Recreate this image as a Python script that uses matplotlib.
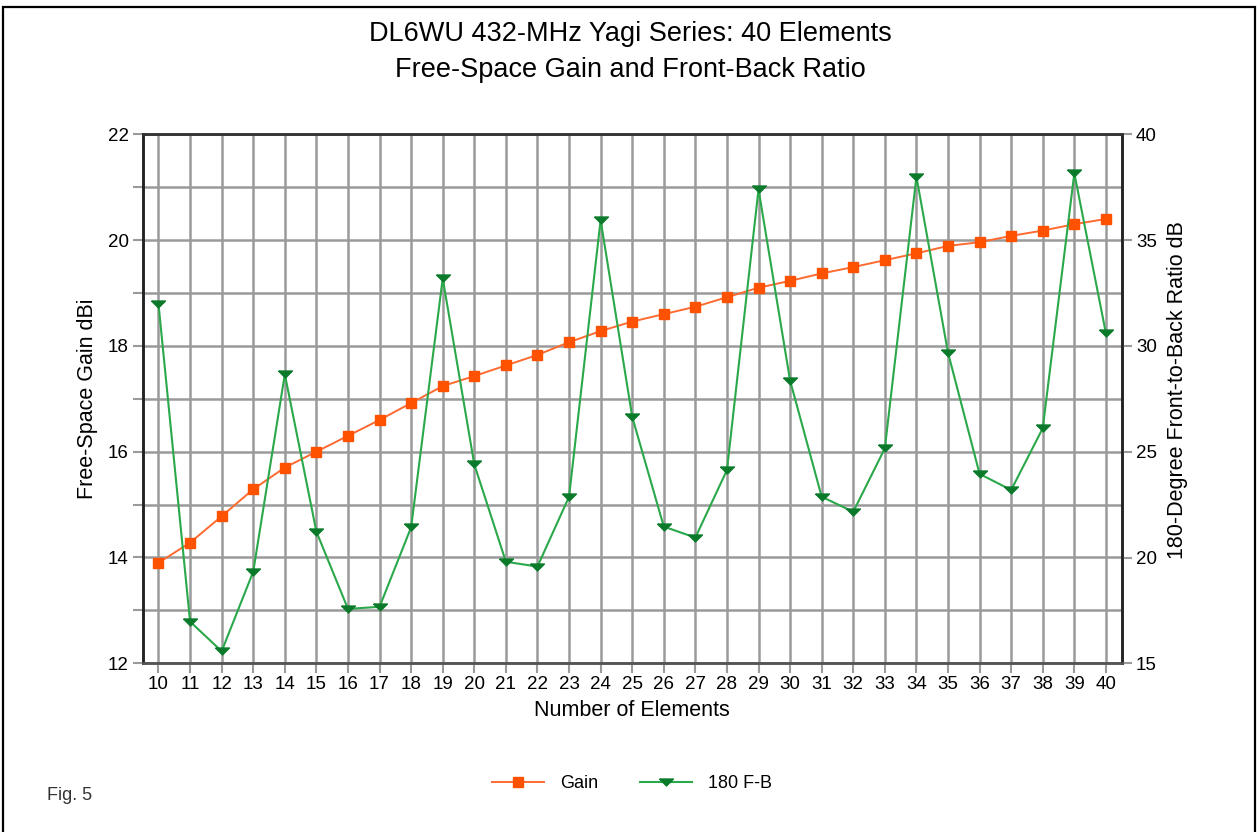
import matplotlib
matplotlib.use("Agg")
import matplotlib.pyplot as plt
from matplotlib.patches import Rectangle
from matplotlib.ticker import MultipleLocator

plt.rcParams['font.family'] = ['Liberation Sans', 'DejaVu Sans']

elements = list(range(10, 41))
gain = [13.90, 14.28, 14.78, 15.29, 15.70, 16.00, 16.30, 16.60, 16.92, 17.24,
        17.43, 17.63, 17.83, 18.07, 18.28, 18.46, 18.60, 18.74, 18.92, 19.10,
        19.23, 19.37, 19.49, 19.62, 19.75, 19.89, 19.96, 20.08, 20.18, 20.30,
        20.40]
fb = [31.98, 16.97, 15.57, 19.33, 28.66, 21.22, 17.57, 17.67, 21.43, 33.19,
      24.40, 19.80, 19.57, 22.87, 35.95, 26.65, 21.46, 20.94, 24.13, 37.40,
      28.36, 22.87, 22.16, 25.16, 38.00, 29.68, 23.95, 23.19, 26.11, 38.16,
      30.60]

title1 = "DL6WU 432-MHz Yagi Series: 40 Elements"
title2 = "Free-Space Gain and Front-Back Ratio"
xlabel = "Number of Elements"
ylabel_left = "Free-Space Gain dBi"
ylabel_right = "180-Degree Front-to-Back Ratio dB"

W, H = 1259, 832
fig = plt.figure(figsize=(W / 100, H / 100), dpi=100)
fig.patch.set_facecolor('white')

L, R, T, B = 142.7, 1121.7, 134.3, 663.3
ax = fig.add_axes([L / W, 1 - B / H, (R - L) / W, (B - T) / H])
ax2 = ax.twinx()

grid_c = '#9a9a9a'
ax.set_xlim(9.5, 40.5)
ax.set_ylim(12, 22)
ax2.set_ylim(15, 40)

ax.set_xticks(elements)
ax.set_xticklabels([str(e) for e in elements])
ax.yaxis.set_major_locator(MultipleLocator(2))
ax.yaxis.set_minor_locator(MultipleLocator(1))
ax2.yaxis.set_major_locator(MultipleLocator(5))

ax.grid(True, which='both', color=grid_c, linewidth=1.8)
ax.set_axisbelow(True)

tick_fs = 13.5
ax.tick_params(axis='x', which='both', length=7.2, width=1.5, color=grid_c,
               labelsize=tick_fs, pad=2)
ax.tick_params(axis='y', which='both', length=7.2, width=1.5, color=grid_c,
               labelsize=tick_fs, pad=3)
ax2.tick_params(axis='y', length=7.2, width=1.5, color=grid_c,
                labelsize=tick_fs, pad=3)

for a in (ax, ax2):
    a.spines['left'].set_color('#222222')
    a.spines['left'].set_linewidth(1.8)
    a.spines['right'].set_color('#222222')
    a.spines['right'].set_linewidth(1.8)
    a.spines['top'].set_color('#333333')
    a.spines['top'].set_linewidth(1.8)
    a.spines['bottom'].set_color('#555555')
    a.spines['bottom'].set_linewidth(1.8)

tri = [(-1.0, 0.5), (1.0, 0.5), (0.0, -0.5), (-1.0, 0.5)]

lg, = ax.plot(elements, gain, color='#ff6a30', linewidth=1.4, marker='s',
              markersize=7.5, markerfacecolor='#ff5200', markeredgecolor='#ff5200',
              label='Gain', zorder=3)
lf, = ax2.plot(elements, fb, color='#2aa84a', linewidth=1.5, marker=tri,
               markersize=10, markerfacecolor='#0a7a2a', markeredgecolor='#0a7a2a',
               label='180 F-B', zorder=4)

fig.text(630 / W, 1 - 34 / H, title1, ha='center', va='center', fontsize=19.5)
fig.text(630 / W, 1 - 70 / H, title2, ha='center', va='center', fontsize=19.5)

fig.text(632 / W, 1 - 711 / H, xlabel, ha='center', va='center', fontsize=15.5)
fig.text(88 / W, 1 - 399 / H, ylabel_left, ha='center', va='center',
         rotation=90, fontsize=15.5)
fig.text(1178 / W, 1 - 390 / H, ylabel_right, ha='center', va='center',
         rotation=90, fontsize=15.5)

fig.text(47 / W, 1 - 795 / H, "Fig. 5", ha='left', va='center', fontsize=13,
         color='#333333')

fig.legend(handles=[lg, lf], loc='center', bbox_to_anchor=(632 / W, 1 - 784 / H),
           ncol=2, frameon=False, fontsize=13, handlelength=2.9,
           handletextpad=0.9, columnspacing=2.3)

fig.patches.append(Rectangle((2.5 / W, -0.02), (1255 - 2.5) / W, 1.02 - 6.5 / H,
                             transform=fig.transFigure, fill=False,
                             edgecolor='black', linewidth=1.6))

fig.savefig('out.png', dpi=100, facecolor='white')
